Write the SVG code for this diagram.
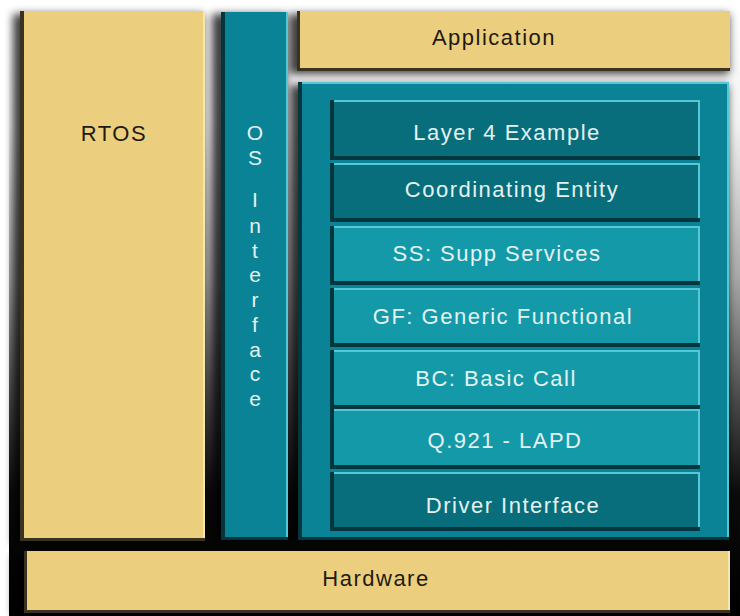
<svg xmlns="http://www.w3.org/2000/svg" width="740" height="616" viewBox="0 0 740 616">
<defs>
  <linearGradient id="bg" x1="0" y1="0" x2="0" y2="1">
    <stop offset="0" stop-color="#ffffff"/>
    <stop offset="0.2" stop-color="#f2f2f2"/>
    <stop offset="0.45" stop-color="#a8a8a8"/>
    <stop offset="0.65" stop-color="#4a4a4a"/>
    <stop offset="0.8" stop-color="#0c0c0c"/>
    <stop offset="1" stop-color="#000000"/>
  </linearGradient>
  <filter id="blur" x="-20%" y="-20%" width="140%" height="140%">
    <feGaussianBlur stdDeviation="4"/>
  </filter>
</defs>
<style>
  .tan { fill: #ebcf7e; }
  .tanedge { fill: #3b3321; }
  .teal { fill: #0a8396; }
  .dark { fill: #086e7c; }
  .light { fill: #1499a9; }
  .edge { fill: #04363d; }
  .hl { fill: #56c7d4; }
  .hlt { fill: #f6e6b0; }
  .shadow { fill: #000000; opacity: 0.75; filter: url(#blur); }
  .tdark { font-family: "Liberation Sans", Arial, sans-serif; font-size: 22px; fill: #1f1a10; letter-spacing: 1.5px; text-anchor: middle; }
  .tlight { font-family: "Liberation Sans", Arial, sans-serif; font-size: 22px; fill: #e4f2f1; letter-spacing: 1.5px; text-anchor: middle; }
  .tv { font-family: "Liberation Sans", Arial, sans-serif; font-size: 21px; fill: #e4f2f1; text-anchor: middle; }
</style>

<rect x="0" y="0" width="740" height="616" fill="url(#bg)"/>
<rect x="0" y="0" width="9" height="616" fill="#ffffff"/>

<g id="shadows">
  <rect class="shadow" x="13" y="14" width="190" height="530"/>
  <rect class="shadow" x="212" y="14" width="74" height="528"/>
  <rect class="shadow" x="289" y="14" width="440" height="60"/>
  <rect class="shadow" x="290" y="85" width="438" height="456"/>
  <rect class="shadow" x="13" y="555" width="716" height="60"/>
</g>

<g id="rtos">
  <rect class="tanedge" x="20" y="11" width="185" height="530"/>
  <rect class="tan" x="24" y="11" width="181" height="527"/>
  <rect class="hlt" x="203" y="11" width="2" height="527"/>
  <text class="tdark" x="114" y="141">RTOS</text>
</g>

<g id="os-interface">
  <rect class="edge" x="221" y="12" width="67" height="528"/>
  <rect class="teal" x="225" y="12" width="63" height="525"/>
  <rect class="hl" x="286" y="12" width="2" height="525"/>
  <text class="tv" x="255" y="140">O</text>
  <text class="tv" x="255" y="165">S</text>
  <text class="tv" x="255" y="207">I</text>
  <text class="tv" x="255" y="233">n</text>
  <text class="tv" x="255" y="257.7">t</text>
  <text class="tv" x="255" y="282.4">e</text>
  <text class="tv" x="255" y="307">r</text>
  <text class="tv" x="255" y="331.8">f</text>
  <text class="tv" x="255" y="356.5">a</text>
  <text class="tv" x="255" y="381.2">c</text>
  <text class="tv" x="255" y="406">e</text>
</g>

<g id="application">
  <rect class="tanedge" x="297" y="11" width="433" height="60"/>
  <rect class="tan" x="300" y="11" width="430" height="57"/>
  <text class="tdark" x="494" y="45">Application</text>
</g>

<g id="stack">
  <rect class="edge" x="298" y="82" width="431" height="458"/>
  <rect class="teal" x="302" y="82" width="427" height="455"/>
  <rect class="hl" x="302" y="82" width="427" height="2"/>
  <rect class="hl" x="727" y="82" width="2" height="455"/>
</g>

<g id="layer4">
  <rect class="edge" x="330" y="100" width="370" height="60"/>
  <rect class="dark" x="334" y="100" width="366" height="56"/>
  <rect class="hl" x="334" y="100" width="366" height="2"/>
  <rect class="hl" x="698" y="100" width="2" height="56"/>
  <text class="tlight" x="507" y="140">Layer 4 Example</text>
</g>

<g id="coordinating">
  <rect class="edge" x="330" y="163" width="370" height="59"/>
  <rect class="dark" x="334" y="163" width="366" height="55"/>
  <rect class="hl" x="334" y="163" width="366" height="2"/>
  <rect class="hl" x="698" y="163" width="2" height="55"/>
  <text class="tlight" x="512" y="197">Coordinating Entity</text>
</g>

<g id="ss">
  <rect class="edge" x="330" y="226" width="370" height="59"/>
  <rect class="light" x="334" y="226" width="366" height="55"/>
  <rect class="hl" x="334" y="226" width="366" height="2"/>
  <rect class="hl" x="698" y="226" width="2" height="55"/>
  <text class="tlight" x="497" y="261">SS: Supp Services</text>
</g>

<g id="gf">
  <rect class="edge" x="330" y="288" width="370" height="59"/>
  <rect class="light" x="334" y="288" width="366" height="55"/>
  <rect class="hl" x="334" y="288" width="366" height="2"/>
  <rect class="hl" x="698" y="288" width="2" height="55"/>
  <text class="tlight" x="503" y="324">GF: Generic Functional</text>
</g>

<g id="bc">
  <rect class="edge" x="330" y="350" width="370" height="59"/>
  <rect class="light" x="334" y="350" width="366" height="55"/>
  <rect class="hl" x="334" y="350" width="366" height="2"/>
  <rect class="hl" x="698" y="350" width="2" height="55"/>
  <text class="tlight" x="496" y="386">BC: Basic Call</text>
</g>

<g id="q921">
  <rect class="edge" x="330" y="409" width="370" height="60"/>
  <rect class="light" x="334" y="409" width="366" height="56"/>
  <rect class="hl" x="334" y="409" width="366" height="2"/>
  <rect class="hl" x="698" y="409" width="2" height="56"/>
  <text class="tlight" x="505" y="448">Q.921 - LAPD</text>
</g>

<g id="driver">
  <rect class="edge" x="330" y="472" width="370" height="59"/>
  <rect class="dark" x="334" y="472" width="366" height="55"/>
  <rect class="hl" x="334" y="472" width="366" height="2"/>
  <rect class="hl" x="698" y="472" width="2" height="55"/>
  <text class="tlight" x="513" y="513">Driver Interface</text>
</g>

<g id="hardware">
  <rect class="tanedge" x="24" y="551" width="706" height="62"/>
  <rect class="tan" x="27" y="551" width="703" height="59"/>
  <rect class="hlt" x="728" y="551" width="2" height="59"/>
  <text class="tdark" x="376" y="586">Hardware</text>
</g>
</svg>
